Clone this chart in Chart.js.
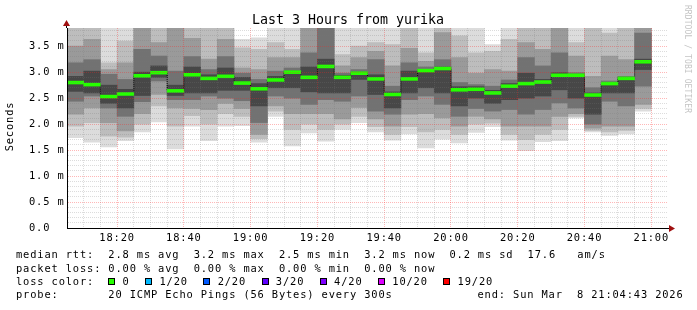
<!DOCTYPE html>
<html>
<head>
<meta charset="utf-8">
<script src="https://cdn.jsdelivr.net/npm/chart.js@4.4.1/dist/chart.umd.min.js"></script>
<style>
  html, body { margin: 0; padding: 0; background: #fff; }
  canvas { display: block; }
</style>
</head>
<body>
<canvas id="myChart-Smoke" width="697" height="310"></canvas>
<script>
// 5 minute slots (start time of each step)
const slotStart = [
  '18:05', '18:10', '18:15', '18:20', '18:25', '18:30', '18:35', '18:40', '18:45', '18:50', '18:55',
  '19:00', '19:05', '19:10', '19:15', '19:20', '19:25', '19:30', '19:35', '19:40', '19:45', '19:50', '19:55',
  '20:00', '20:05', '20:10', '20:15', '20:20', '20:25', '20:30', '20:35', '20:40', '20:45', '20:50', '20:55'
];

// median rtt (ms)
const medianRtt = [2.80, 2.76, 2.53, 2.58, 2.93, 2.99, 2.64, 2.95, 2.88, 2.92, 2.79, 2.68, 2.85, 3.00, 2.90, 3.11, 2.90, 2.98,
  2.87, 2.57, 2.87, 3.03, 3.07, 2.66, 2.67, 2.60, 2.73, 2.78, 2.81, 2.94, 2.94, 2.56, 2.78, 2.88, 3.20];

// smoke: sorted pings, low side (1 = fastest) and high side (1 = slowest), ms
const bandLow1 = [1.74, 1.65, 1.56, 1.68, 1.85, 2.04, 1.52, 1.96, 1.68, 1.96, 1.97, 1.65, 2.15, 1.58, 1.83, 1.67, 1.90, 2.03,
  1.85, 1.69, 1.81, 1.54, 1.71, 1.64, 1.84, 1.95, 1.69, 1.49, 1.66, 1.68, 2.12, 1.85, 1.78, 1.81, 2.25];
const bandLow2 = [1.96, 2.03, 1.77, 1.75, 2.00, 2.35, 1.96, 2.16, 2.00, 2.20, 2.15, 1.72, 2.25, 1.90, 2.00, 1.90, 2.00, 2.15,
  1.95, 1.80, 1.95, 1.85, 1.90, 1.80, 2.00, 2.02, 1.80, 1.70, 1.80, 1.90, 2.15, 1.88, 1.85, 1.88, 2.30];
const bandLow3 = [2.19, 2.31, 2.03, 1.87, 2.20, 2.57, 2.31, 2.30, 2.28, 2.40, 2.30, 1.80, 2.35, 2.20, 2.20, 2.20, 2.10, 2.32,
  2.10, 1.96, 2.19, 2.20, 2.12, 1.96, 2.15, 2.10, 1.96, 1.96, 1.96, 2.15, 2.20, 1.92, 1.96, 1.96, 2.38];
const bandLow4 = [2.44, 2.54, 2.31, 2.15, 2.43, 2.83, 2.47, 2.47, 2.54, 2.50, 2.45, 2.03, 2.54, 2.50, 2.38, 2.47, 2.44, 2.54,
  2.25, 2.19, 2.47, 2.54, 2.38, 2.15, 2.30, 2.25, 2.28, 2.19, 2.28, 2.41, 2.31, 2.00, 2.44, 2.35, 2.73];
const bandLow5 = [2.63, 2.60, 2.40, 2.31, 2.55, 2.90, 2.55, 2.60, 2.60, 2.65, 2.65, 2.35, 2.70, 2.70, 2.62, 2.60, 2.60, 2.86,
  2.57, 2.31, 2.60, 2.70, 2.60, 2.35, 2.50, 2.40, 2.47, 2.50, 2.54, 2.66, 2.50, 2.19, 2.60, 2.60, 3.05];

const bandHigh5 = [2.92, 3.02, 2.75, 2.67, 3.00, 3.12, 2.75, 3.10, 2.95, 3.08, 2.90, 2.78, 2.92, 3.02, 3.10, 3.25, 2.94, 3.00,
  2.95, 2.62, 3.02, 3.05, 3.10, 2.72, 2.72, 2.65, 2.78, 2.98, 2.86, 2.99, 2.96, 2.60, 2.80, 2.90, 3.25];
const bandHigh4 = [3.18, 3.24, 2.96, 2.86, 3.44, 3.31, 3.02, 3.30, 3.05, 3.30, 2.98, 2.86, 3.02, 3.08, 3.37, 4.00, 2.98, 3.05,
  3.24, 2.73, 3.18, 3.10, 3.24, 2.80, 2.76, 2.73, 2.85, 3.28, 3.12, 3.37, 2.99, 2.70, 2.83, 2.92, 3.75];
const bandHigh3 = [3.50, 3.63, 3.05, 3.18, 4.00, 3.57, 4.00, 3.65, 3.25, 3.63, 3.08, 3.05, 3.28, 3.28, 4.00, 4.20, 3.12, 3.28,
  3.40, 3.12, 3.46, 3.21, 3.76, 3.28, 2.98, 3.05, 3.02, 3.57, 3.44, 4.00, 3.31, 2.92, 3.31, 3.24, 4.20];
const bandHigh2 = [4.00, 3.90, 3.18, 3.60, 4.30, 4.00, 4.30, 4.10, 4.00, 4.10, 3.47, 3.44, 3.57, 3.44, 4.20, 4.40, 3.34, 3.50,
  3.57, 3.53, 4.20, 3.37, 4.00, 3.70, 3.37, 3.40, 3.63, 4.20, 4.20, 4.30, 3.57, 4.00, 3.75, 4.20, 4.40];
const bandHigh1 = [4.50, 4.50, 4.30, 4.30, 4.60, 4.50, 4.60, 4.50, 4.50, 4.50, 3.63, 3.66, 4.30, 4.30, 4.50, 4.60, 4.40, 4.40,
  4.10, 4.30, 4.50, 4.30, 4.40, 4.10, 4.30, 3.53, 4.20, 4.50, 4.50, 4.60, 4.40, 4.30, 4.10, 4.50, 4.60];

// axis labels
const xTickLabels = ['18:20', '18:40', '19:00', '19:20', '19:40', '20:00', '20:20', '20:40', '21:00'];
const yTickValues = [0, 0.5, 1.0, 1.5, 2.0, 2.5, 3.0, 3.5];
const yTickLabels = ['0.0', '0.5 m', '1.0 m', '1.5 m', '2.0 m', '2.5 m', '3.0 m', '3.5 m'];

// legend texts
const statLines = [
  'median rtt:  2.8 ms avg  3.2 ms max  2.5 ms min  3.2 ms now  0.2 ms sd  17.6   am/s',
  'packet loss: 0.00 % avg  0.00 % max  0.00 % min  0.00 % now'
];
const lossLabels = ['0', '1/20', '2/20', '3/20', '4/20', '10/20', '19/20'];
const lossColors = ['#26ff00', '#00b8ff', '#0059ff', '#5e00ff', '#7e00ff', '#dd00ff', '#ff0000'];
const probeText = 'probe:       20 ICMP Echo Pings (56 Bytes) every 300s';
const endText = 'end: Sun Mar  8 21:04:43 2026';

const toMinutes = t => {
  const [h, m] = t.split(':').map(Number);
  return (h - 18) * 60 + m;
};
const slotCenter = slotStart.map(t => toMinutes(t) + 2.5);
const xMajor = xTickLabels.map(toMinutes);

const xGrid = [];
for (let v = 10; v <= 180; v += 5) xGrid.push(v);
const yGrid = [];
for (let i = 0; i <= 38; i++) yGrid.push(i / 10);

const MONO = '"DejaVu Sans Mono", monospace';
const minorGrid = 'rgba(120,120,120,0.26)';
const majorGrid = 'rgba(255,30,30,0.32)';

const bands = [
  [bandLow1, bandHigh1, '#dcdcdc'],
  [bandLow2, bandHigh2, '#bdbdbd'],
  [bandLow3, bandHigh3, '#9a9a9a'],
  [bandLow4, bandHigh4, '#727272'],
  [bandLow5, bandHigh5, '#474747']
];

const smokeSets = bands.map(([lo, hi, col], k) => ({
  type: 'bar',
  data: slotCenter.map((x, i) => ({ x, y: [lo[i], hi[i]] })),
  backgroundColor: col,
  borderWidth: 0,
  grouped: false,
  barPercentage: 1,
  categoryPercentage: 1,
  order: 10 - k
}));

const smokeDecor = {
  id: 'smokeDecor',
  beforeDraw(chart) {
    chart.ctx.letterSpacing = '0.85px';
  },
  afterDraw(chart) {
    const ctx = chart.ctx;
    const { left, right, top, bottom } = chart.chartArea;
    ctx.save();

    // axis extensions and arrows
    ctx.strokeStyle = '#000';
    ctx.lineWidth = 1;
    ctx.beginPath();
    ctx.moveTo(left - 0.5, top);
    ctx.lineTo(left - 0.5, top - 3);
    ctx.moveTo(right, bottom + 0.5);
    ctx.lineTo(right + 2, bottom + 0.5);
    ctx.stroke();
    ctx.fillStyle = '#a01010';
    ctx.beginPath();
    ctx.moveTo(left - 0.5, top - 8);
    ctx.lineTo(left - 4, top - 2);
    ctx.lineTo(left + 3, top - 2);
    ctx.closePath();
    ctx.fill();
    ctx.beginPath();
    ctx.moveTo(right + 7, bottom + 0.5);
    ctx.lineTo(right + 1, bottom - 3);
    ctx.lineTo(right + 1, bottom + 4);
    ctx.closePath();
    ctx.fill();

    // title
    ctx.fillStyle = '#000';
    ctx.letterSpacing = '0px';
    ctx.font = '13.3px ' + MONO;
    ctx.textAlign = 'center';
    ctx.textBaseline = 'alphabetic';
    ctx.fillText('Last 3 Hours from yurika', 348, 23.5);

    // y axis title
    ctx.letterSpacing = '0.85px';
    ctx.font = '10.4px ' + MONO;
    ctx.save();
    ctx.translate(10, 126.5);
    ctx.rotate(-Math.PI / 2);
    ctx.textBaseline = 'middle';
    ctx.fillText('Seconds', 0, 0);
    ctx.restore();

    // watermark
    ctx.save();
    ctx.translate(687.5, 59);
    ctx.rotate(Math.PI / 2);
    ctx.font = '8px ' + MONO;
    ctx.letterSpacing = '0.1px';
    ctx.fillStyle = '#c4c4c4';
    ctx.textBaseline = 'middle';
    ctx.fillText('RRDTOOL / TOBI OETIKER', 0, 0);
    ctx.restore();

    // legend
    const cw = 7.1;
    const x0 = 16;
    ctx.textAlign = 'left';
    ctx.textBaseline = 'alphabetic';
    ctx.fillStyle = '#000';
    ctx.fillText(statLines[0], x0, 258.3);
    ctx.fillText(statLines[1], x0, 271.7);
    ctx.fillText('loss color:', x0, 285);
    let col = 13;
    lossLabels.forEach((lab, i) => {
      const sx = Math.round(x0 + col * cw);
      ctx.fillStyle = lossColors[i];
      ctx.fillRect(sx, 278, 7, 7);
      ctx.strokeStyle = '#000';
      ctx.strokeRect(sx + 0.5, 278.5, 6, 6);
      ctx.fillStyle = '#000';
      ctx.fillText(lab, x0 + (col + 2) * cw, 285);
      col += 2 + lab.length + 2.2;
    });
    ctx.fillText(probeText, x0, 298.3);
    ctx.fillText(endText, x0 + 65 * cw, 298.3);
    ctx.restore();
  }
};

new Chart(document.getElementById('myChart-Smoke'), {
  type: 'bar',
  data: {
    datasets: [
      {
        type: 'bar',
        data: slotCenter.map((x, i) => ({ x, y: [medianRtt[i] - 0.028, medianRtt[i] + 0.028] })),
        backgroundColor: '#26ff00',
        borderWidth: 0,
        grouped: false,
        barPercentage: 1,
        categoryPercentage: 1,
        order: 0
      }, {
        type: 'line',
        data: slotCenter.map((x, i) => ({ x, y: medianRtt[i] })),
        stepped: 'middle',
        borderColor: '#000',
        borderWidth: 1,
        borderDash: [1, 1],
        pointRadius: 0,
        fill: false,
        order: 1
      },
      ...smokeSets
    ]
  },
  options: {
    responsive: false,
    animation: false,
    devicePixelRatio: 1,
    layout: { padding: { left: 29, top: 28, right: 29, bottom: 0 } },
    plugins: { legend: { display: false }, tooltip: { enabled: false } },
    scales: {
      x: {
        type: 'linear',
        min: 5,
        max: 185,
        offset: false,
        grid: {
          z: 1,
          offset: false,
          drawTicks: false,
          lineWidth: 1,
          color: c => (xMajor.includes(c.tick.value) ? majorGrid : minorGrid)
        },
        border: { z: 2, color: '#000', width: 1, dash: [1, 1] },
        ticks: {
          autoSkip: false,
          maxRotation: 0,
          padding: 4,
          color: '#000',
          font: { family: MONO, size: 10.4 },
          callback: v => {
            const i = xMajor.indexOf(v);
            return i >= 0 ? xTickLabels[i] : '';
          }
        },
        afterBuildTicks: s => { s.ticks = xGrid.map(value => ({ value })); },
        afterFit: s => { s.height = 82; }
      },
      y: {
        type: 'linear',
        min: 0,
        max: 3.85,
        grid: {
          z: 1,
          drawTicks: false,
          lineWidth: 1,
          color: c => (Math.round(c.tick.value * 10) % 5 === 0 ? majorGrid : minorGrid)
        },
        border: { z: 2, color: '#000', width: 1, dash: [1, 1] },
        ticks: {
          autoSkip: false,
          crossAlign: 'far',
          padding: 5,
          color: '#000',
          font: { family: MONO, size: 10.4 },
          callback: v => {
            const i = yTickValues.findIndex(t => Math.abs(t - v) < 1e-6);
            return i >= 0 ? yTickLabels[i] : '';
          }
        },
        afterBuildTicks: s => { s.ticks = yGrid.map(value => ({ value })); },
        afterFit: s => { s.width = 38; }
      }
    }
  },
  plugins: [smokeDecor]
});
</script>
</body>
</html>
